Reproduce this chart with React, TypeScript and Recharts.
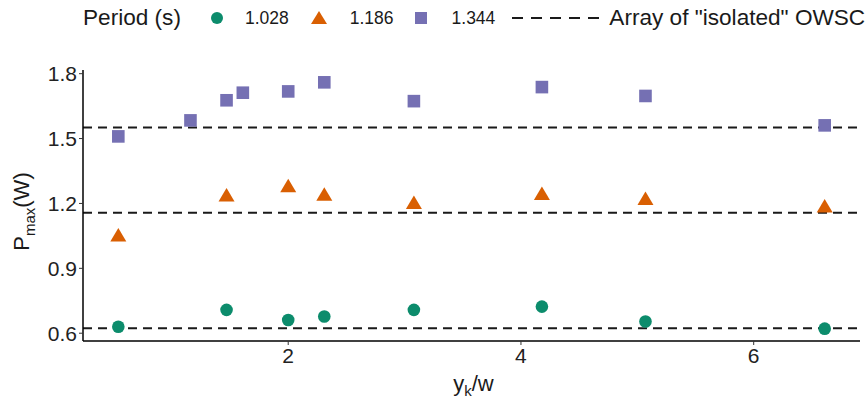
import {
  ScatterChart, Scatter, XAxis, YAxis, ReferenceLine,
} from 'recharts';

const X_SHORT = [0.54, 1.47, 2.0, 2.31, 3.08, 4.18, 5.07, 6.61];
const X_LONG = [0.54, 1.16, 1.47, 1.61, 2.0, 2.31, 3.08, 4.18, 5.07, 6.61];

const P_1028 = [0.63, 0.708, 0.661, 0.677, 0.708, 0.723, 0.654, 0.621];
const P_1186 = [1.05, 1.234, 1.277, 1.238, 1.2, 1.241, 1.218, 1.184];
const P_1344 = [1.51, 1.584, 1.677, 1.712, 1.718, 1.76, 1.673, 1.738, 1.697, 1.561];

const ISOLATED = [0.623, 1.157, 1.551];

const X_TICKS = [2, 4, 6];
const Y_TICKS = [0.6, 0.9, 1.2, 1.5, 1.8];

const TEAL = '#0c8c6c';
const ORANGE = '#d95f02';
const PURPLE = '#7570b3';
const FONT = 'Liberation Sans, Arial, sans-serif';

const toPoints = (xs: number[], ys: number[]) => xs.map((x, i) => ({ x, y: ys[i] }));

const Dot = ({ cx, cy }: any) => <circle cx={cx} cy={cy} r={6.3} fill={TEAL} />;
const Tri = ({ cx, cy }: any) => (
  <path d={`M${cx},${cy - 8}L${cx - 8},${cy + 5.5}L${cx + 8},${cy + 5.5}Z`} fill={ORANGE} />
);
const Sq = ({ cx, cy }: any) => (
  <rect x={cx - 6.3} y={cy - 6.3} width={12.6} height={12.6} fill={PURPLE} />
);

const YTitle = ({ viewBox }: any) => {
  const x = 29;
  const y = viewBox.y + viewBox.height / 2 + 6;
  return (
    <text x={x} y={y} transform={`rotate(-90, ${x}, ${y})`} textAnchor="middle"
      fontSize={22} fill="#1a1a1a" fontFamily={FONT}>
      P<tspan dy={6} fontSize={15}>max</tspan><tspan dy={-6}>(W)</tspan>
    </text>
  );
};

const XTitle = ({ viewBox }: any) => {
  const x = viewBox.x + viewBox.width / 2 + 2;
  const y = 391;
  return (
    <text x={x} y={y} textAnchor="middle" fontSize={22} fill="#1a1a1a" fontFamily={FONT}>
      y<tspan dy={5} fontSize={15}>k</tspan><tspan dy={-5}>/w</tspan>
    </text>
  );
};

function TopLegend() {
  const small = { fontSize: 17.5, color: '#1a1a1a' };
  return (
    <div style={{
      position: 'absolute', left: 83, top: 5, display: 'flex', alignItems: 'center',
      fontFamily: FONT, whiteSpace: 'nowrap', height: 26,
    }}>
      <span style={{ fontSize: 22.6, color: '#1a1a1a' }}>Period (s)</span>
      <svg width={12} height={12} style={{ marginLeft: 30 }}><circle cx={6} cy={6} r={6} fill={TEAL} /></svg>
      <span style={{ ...small, marginLeft: 22 }}>1.028</span>
      <svg width={16} height={14} style={{ marginLeft: 22 }}><path d="M8,0L0,13L16,13Z" fill={ORANGE} /></svg>
      <span style={{ ...small, marginLeft: 23 }}>1.186</span>
      <svg width={12} height={12} style={{ marginLeft: 21 }}><rect width={12} height={12} fill={PURPLE} /></svg>
      <span style={{ ...small, marginLeft: 25 }}>1.344</span>
      <svg width={89} height={4} style={{ marginLeft: 17 }}>
        <line x1={0} y1={2} x2={89} y2={2} stroke="#1a1a1a" strokeWidth={2} strokeDasharray="11 8" />
      </svg>
      <span style={{ fontSize: 22.6, color: '#1a1a1a', marginLeft: 8 }}>Array of "isolated" OWSC</span>
    </div>
  );
}

export default function App() {
  return (
    <div style={{ position: 'absolute', left: 0, top: 0, width: 867, height: 403, background: '#fff', overflow: 'hidden' }}>
      <TopLegend />
      <ScatterChart width={867} height={403} margin={{ top: 70, right: 7, bottom: 0, left: 0 }}>
        <XAxis
          type="number" dataKey="x" domain={[0.2365, 6.9135]} ticks={X_TICKS}
          allowDataOverflow height={62}
          axisLine={{ stroke: '#000', strokeWidth: 1.5 }}
          tickLine={{ stroke: '#333' }} tickSize={4} tickMargin={3}
          tick={{ fontSize: 21, fill: '#222', fontFamily: FONT }}
          label={<XTitle />}
        />
        <YAxis
          type="number" dataKey="y" domain={[0.564, 1.817]} ticks={Y_TICKS}
          allowDataOverflow width={83}
          axisLine={{ stroke: '#000', strokeWidth: 1.5 }}
          tickLine={{ stroke: '#333' }} tickSize={4} tickMargin={2}
          tick={{ fontSize: 21, fill: '#222', fontFamily: FONT }}
          tickFormatter={(v: number) => v.toFixed(1)}
          label={<YTitle />}
        />
        {ISOLATED.map((v) => (
          <ReferenceLine key={v} y={v} stroke="#1a1a1a" strokeWidth={2} strokeDasharray="9 6" />
        ))}
        <Scatter data={toPoints(X_SHORT, P_1028)} shape={<Dot />} isAnimationActive={false} />
        <Scatter data={toPoints(X_SHORT, P_1186)} shape={<Tri />} isAnimationActive={false} />
        <Scatter data={toPoints(X_LONG, P_1344)} shape={<Sq />} isAnimationActive={false} />
      </ScatterChart>
    </div>
  );
}
